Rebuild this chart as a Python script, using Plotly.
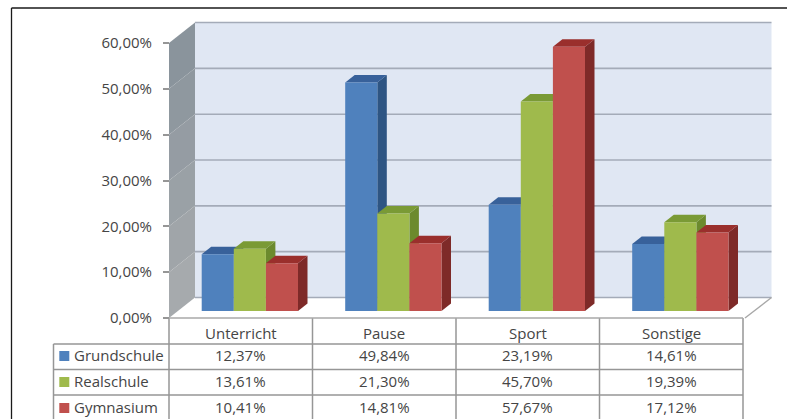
import plotly.graph_objects as go

# Chart content
categories = ["Unterricht", "Pause", "Sport", "Sonstige"]
series_names = ["Grundschule", "Realschule", "Gymnasium"]
grundschule = [12.37, 49.84, 23.19, 14.61]
realschule = [13.61, 21.30, 45.70, 19.39]
gymnasium = [10.41, 14.81, 57.67, 17.12]
axis_ticks = [0, 10, 20, 30, 40, 50, 60]
axis_labels = ["0,00%", "10,00%", "20,00%", "30,00%", "40,00%", "50,00%", "60,00%"]

# Front, side and top colours per series
front_colors = ["#4f81bd", "#9fba4c", "#c0504d"]
side_colors = ["#2e5583", "#6c8a2d", "#7e2a28"]
top_colors = ["#38619a", "#7a9a35", "#9a2f2c"]
wall_shades = ["#8a949c", "#8f989f", "#959ca3", "#9aa1a6", "#a0a5a9", "#a6aaad"]

W, H = 787, 419
X_ZERO, CAT_PX = 169.0, 143.5     # pixel of category 0 and width of one category
Y_ZERO, VAL_PX = 318.0, 4.583     # pixel of 0 % and height of one percent


def xc(px):
    return (px - X_ZERO) / CAT_PX


def yv(py):
    return (Y_ZERO - py) / VAL_PX


# Oblique depth of the chart box and of the bars, in axis units
BOX_DX, BOX_DY = 26 / CAT_PX, 20.5 / VAL_PX
BACK_RIGHT = xc(771.5)
BAR_LEFT, BAR_W = 32.7 / CAT_PX, 32.1 / CAT_PX
BAR_BASE = 7.0 / VAL_PX
BAR_DX, BAR_DY = 9.5 / CAT_PX, 7.5 / VAL_PX

fig = go.Figure()


def poly(xs, ys, color, name=None, hover=False):
    fig.add_trace(go.Scatter(
        x=xs + xs[:1], y=ys + ys[:1], mode="lines", fill="toself",
        fillcolor=color, line=dict(width=0, color=color), showlegend=False,
        name=name or "", hoverinfo="name" if hover else "skip",
    ))


def seg(xs, ys, color="#a4abb8", width=1.6):
    fig.add_trace(go.Scatter(
        x=xs, y=ys, mode="lines", line=dict(color=color, width=width),
        showlegend=False, hoverinfo="skip",
    ))


# Back wall and its gridlines
poly([BOX_DX, BACK_RIGHT, BACK_RIGHT, BOX_DX],
     [BOX_DY, BOX_DY, 60 + BOX_DY, 60 + BOX_DY], "#e0e7f3")
for t in axis_ticks:
    seg([BOX_DX, BACK_RIGHT], [t + BOX_DY, t + BOX_DY])

# Shaded side wall, darker towards the top
n = len(wall_shades)
for i, shade in enumerate(wall_shades):
    hi = 60 - 60 * i / n
    lo = 60 - 60 * (i + 1) / n
    poly([0, BOX_DX, BOX_DX, 0], [lo, lo + BOX_DY, hi + BOX_DY, hi], shade)

# Floor edge on the right
seg([xc(745), BACK_RIGHT], [0, BOX_DY], "#a8a8a8", 1.4)

# Bars, painted left to right so neighbours overlap correctly
all_values = [grundschule, realschule, gymnasium]
for c in range(len(categories)):
    for s, values in enumerate(all_values):
        v = values[c]
        x0 = c + BAR_LEFT + s * BAR_W
        x1 = x0 + BAR_W
        y0, y1 = BAR_BASE, BAR_BASE + v
        poly([x1, x1 + BAR_DX, x1 + BAR_DX, x1],
             [y0, y0 + BAR_DY, y1 + BAR_DY, y1], side_colors[s])
        poly([x0, x1, x1 + BAR_DX, x0 + BAR_DX],
             [y1, y1, y1 + BAR_DY, y1 + BAR_DY], top_colors[s])
        poly([x0, x1, x1, x0], [y0, y0, y1, y1], front_colors[s],
             name=f"{series_names[s]}, {categories[c]}", hover=True)

# Data table beneath the plot
header_top, row_lines = 318, [344, 369.5, 395]
bottom = 421
col_px = [X_ZERO + CAT_PX * i for i in range(5)]
grid_color = "#969696"
shapes = []
for px in col_px:
    shapes.append(dict(type="line", xref="x", yref="y", x0=xc(px), x1=xc(px),
                       y0=yv(header_top), y1=yv(bottom),
                       line=dict(color=grid_color, width=1.5)))
shapes.append(dict(type="line", xref="x", yref="y", x0=xc(53.5), x1=xc(53.5),
                   y0=yv(row_lines[0]), y1=yv(bottom),
                   line=dict(color=grid_color, width=1.5)))
shapes.append(dict(type="line", xref="x", yref="y", x0=xc(X_ZERO), x1=xc(col_px[-1]),
                   y0=yv(header_top), y1=yv(header_top),
                   line=dict(color="#a8a8a8", width=1.5)))
for py in row_lines:
    shapes.append(dict(type="line", xref="x", yref="y", x0=xc(53.5), x1=xc(col_px[-1]),
                       y0=yv(py), y1=yv(py), line=dict(color=grid_color, width=1.5)))

# Outer frame
shapes.append(dict(type="line", xref="paper", yref="paper", x0=11.5 / W, x1=11.5 / W,
                   y0=0, y1=1 - 8 / H, line=dict(color="#1a1a1a", width=1.3)))
shapes.append(dict(type="line", xref="paper", yref="paper", x0=11.5 / W, x1=1,
                   y0=1 - 8 / H, y1=1 - 8 / H, line=dict(color="#1a1a1a", width=1.3)))

TEXT = dict(family="Open Sans", size=15, color="#454545")
annotations = []


def label(x, y, text, anchor="center"):
    annotations.append(dict(x=x, y=y, xref="x", yref="y", text=text, showarrow=False,
                            xanchor=anchor, yanchor="middle", font=TEXT))


for c, name in enumerate(categories):
    label(c + 0.5, yv(332.5), name)

row_centers = [355, 381, 407]
swatch_centers = [356, 382, 408]
for s, values in enumerate(all_values):
    label(xc(71.5), yv(row_centers[s]), series_names[s], "left")
    for c, v in enumerate(values):
        label(c + 0.5, yv(row_centers[s]), f"{v:.2f}%".replace(".", ","))
    fig.add_trace(go.Scatter(
        x=[xc(64.3)], y=[yv(swatch_centers[s])], mode="markers",
        marker=dict(symbol="square", size=10, color=front_colors[s]),
        showlegend=False, hoverinfo="skip",
    ))

fig.update_layout(
    width=W, height=H,
    margin=dict(l=0, r=0, t=0, b=0, pad=0),
    paper_bgcolor="white", plot_bgcolor="white",
    shapes=shapes, annotations=annotations,
    xaxis=dict(range=[xc(0), xc(W)], visible=False, fixedrange=True),
    yaxis=dict(
        range=[yv(H), yv(0)], anchor="free", position=X_ZERO / W,
        tickmode="array", tickvals=axis_ticks, ticktext=axis_labels,
        ticks="outside", ticklen=6, tickwidth=1.5, tickcolor="#969696",
        ticklabelstandoff=8, showgrid=False, zeroline=False, showline=False,
        tickfont=TEXT, fixedrange=True,
    ),
    showlegend=False,
)

fig.write_html("out.html", config=dict(displayModeBar=False))
